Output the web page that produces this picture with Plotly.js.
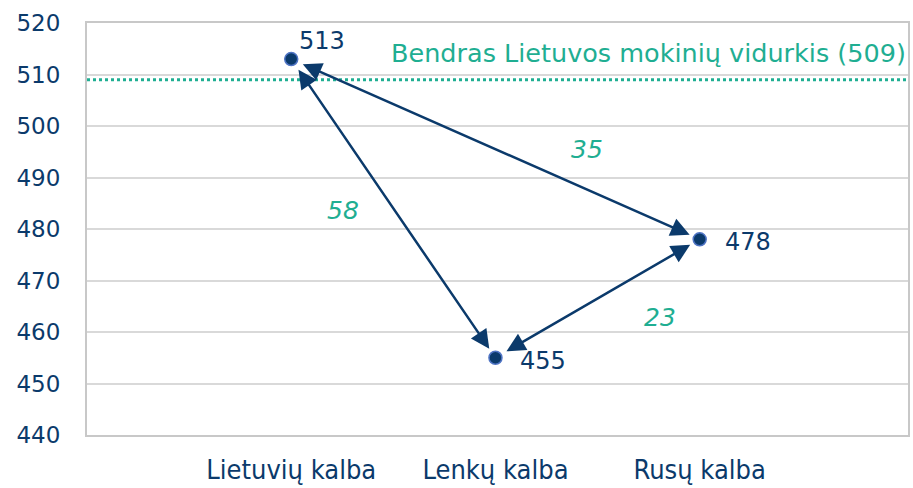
<!DOCTYPE html>
<html><head><meta charset="utf-8">
<script src="https://cdn.plot.ly/plotly-3.0.1.min.js"></script>
<style>html,body{margin:0;padding:0;background:#fff}#c{width:913px;height:488px}</style>
</head><body><div id="c"></div>
<script>
const categories = ["Lietuvių kalba", "Lenkų kalba", "Rusų kalba"];
const scores = [513, 455, 478];
const average = 509;
const averageLabel = "Bendras Lietuvos mokinių vidurkis (" + average + ")";
const yTicks = [440, 450, 460, 470, 480, 490, 500, 510, 520];
const pairs = [[0, 1], [0, 2], [1, 2]];

const navy = "#0b3a6b";
const teal = "#1fae92";
const xIdx = categories.map((c, i) => i);

const traces = [
  {x: [-1, 3.02], y: [average, average], mode: "lines", line: {color: teal, width: 3, dash: "dot"}, hoverinfo: "skip", showlegend: false},
  {x: xIdx, y: scores, mode: "markers", marker: {size: 13, color: navy, line: {color: "#4f74c4", width: 1.5}}, showlegend: false}
];

const ann = [];
pairs.forEach(([a, b]) => {
  ann.push({x: xIdx[b], y: scores[b], ax: xIdx[a], ay: scores[a], xref: "x", yref: "y", axref: "x", ayref: "y",
    showarrow: true, arrowside: "end+start", arrowhead: 2, startarrowhead: 2, arrowsize: 1.5, startarrowsize: 1.5,
    arrowwidth: 2.5, arrowcolor: navy, standoff: 11, startstandoff: 11, text: ""});
});
const diffShift = [[-50, -2], [92, 0], [62, -19]];
pairs.forEach(([a, b], k) => {
  ann.push({x: (xIdx[a] + xIdx[b]) / 2, y: (scores[a] + scores[b]) / 2, xref: "x", yref: "y", showarrow: false,
    text: "<i>" + Math.abs(scores[a] - scores[b]) + "</i>", font: {family: "DejaVu Sans", size: 25, color: teal},
    xshift: diffShift[k][0], yshift: diffShift[k][1]});
});
const labShift = [[31, 18], [48, -3], [48, -3]];
scores.forEach((s, i) => {
  ann.push({x: xIdx[i], y: s, xref: "x", yref: "y", showarrow: false, text: String(s),
    font: {family: "DejaVu Sans", size: 24, color: navy}, xshift: labShift[i][0], yshift: labShift[i][1]});
});
ann.push({x: 1, xref: "paper", xanchor: "right", y: average, yref: "y", yanchor: "bottom", yshift: 10, showarrow: false,
  text: averageLabel, font: {family: "DejaVu Sans", size: 25.5, color: teal}});

const layout = {
  width: 913, height: 488,
  margin: {l: 87, r: 5, t: 23, b: 53},
  paper_bgcolor: "#fff", plot_bgcolor: "#fff",
  showlegend: false,
  xaxis: {range: [-1, 3.02], tickvals: xIdx, ticktext: categories, showgrid: false, zeroline: false,
    showline: true, linecolor: "#c8c8c8", linewidth: 2, mirror: true, ticks: "", ticklabelstandoff: 10,
    tickfont: {family: "DejaVu Sans Condensed, Liberation Sans Narrow, Roboto", size: 27, color: navy}},
  yaxis: {range: [440, 520], tickvals: yTicks, showgrid: true, gridcolor: "#d9d9d9", gridwidth: 2, zeroline: false,
    showline: true, linecolor: "#c8c8c8", linewidth: 2, mirror: true, ticks: "", ticklabelstandoff: 20,
    tickfont: {family: "DejaVu Sans", size: 23, color: navy}},
  annotations: ann
};
Plotly.newPlot("c", traces, layout, {displayModeBar: false, staticPlot: true});
</script></body></html>
